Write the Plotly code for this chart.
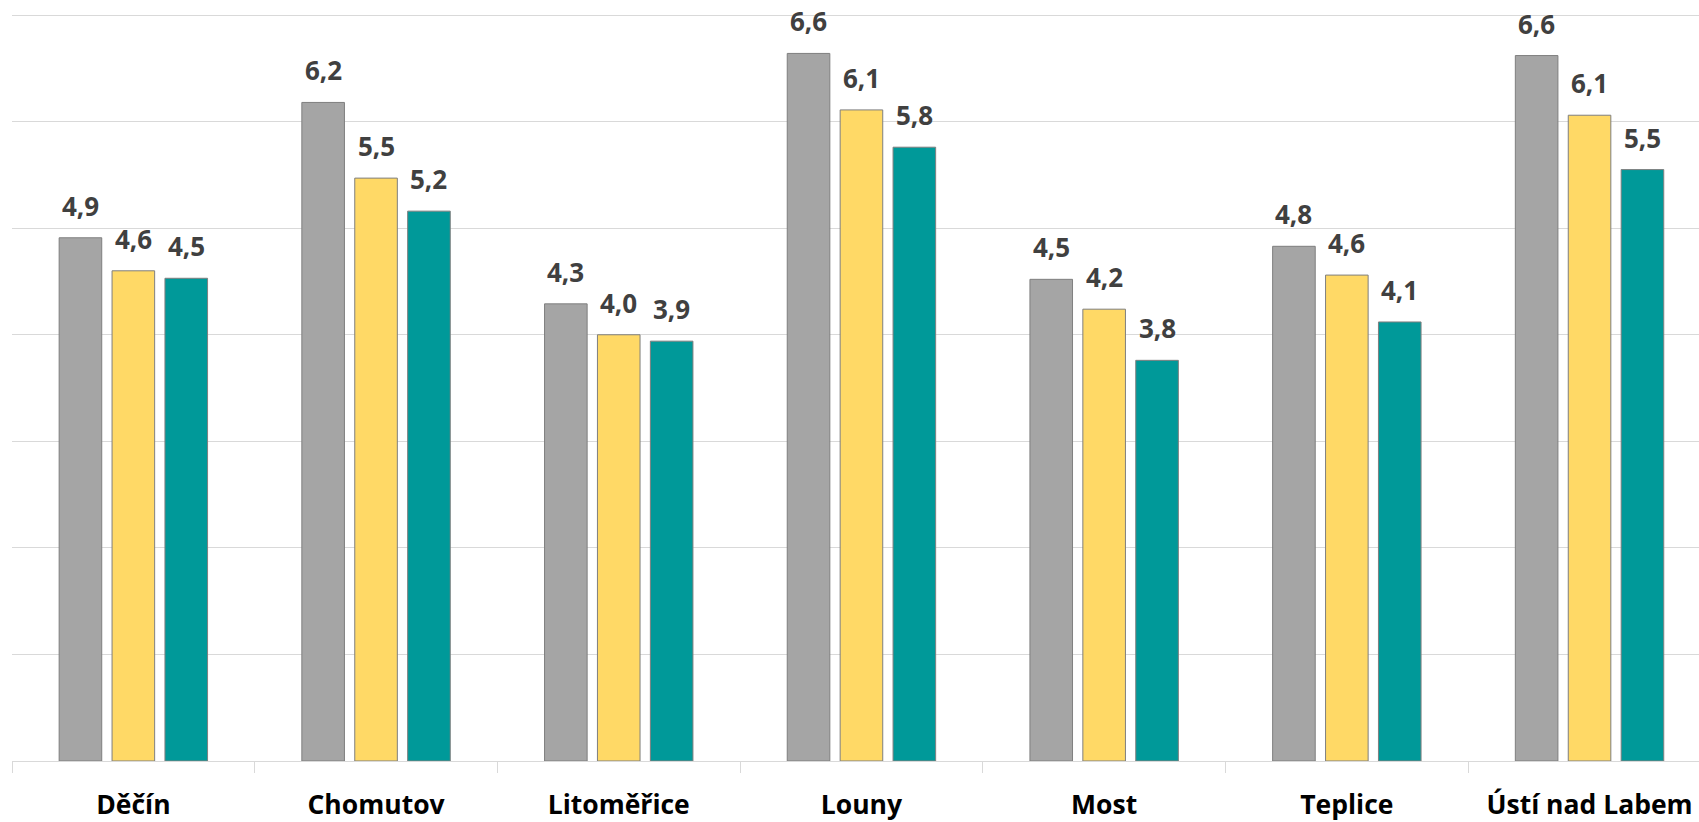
import plotly.graph_objects as go

categories = ["Děčín", "Chomutov", "Litoměřice", "Louny", "Most", "Teplice", "Ústí nad Labem"]
series_a = [4.91, 6.18, 4.29, 6.64, 4.52, 4.83, 6.62]   # gray
series_b = [4.60, 5.47, 4.00, 6.11, 4.24, 4.56, 6.06]   # yellow
series_c = [4.53, 5.16, 3.94, 5.76, 3.76, 4.12, 5.55]   # teal

series = [series_a, series_b, series_c]
colors = ["#A5A5A5", "#FFD966", "#009999"]

BARGAP = 0.346
GROUPGAP = 0.195
slot = (1 - BARGAP) / len(series)

fig = go.Figure()
for s, c in zip(series, colors):
    fig.add_trace(go.Bar(
        x=categories, y=s, marker=dict(color=c, line=dict(color="#7F7F7F", width=1)),
        showlegend=False, hoverinfo="skip"))

annotations = []
for j, s in enumerate(series):
    for i, v in enumerate(s):
        annotations.append(dict(
            x=i + (j - 1) * slot, y=v, xref="x", yref="y",
            text=f"{v:.1f}".replace(".", ","), showarrow=False,
            yanchor="bottom", xanchor="center", yshift=12,
            font=dict(family="Open Sans", size=26, color="#404040", weight="bold")))

fig.update_layout(
    width=1699, height=822,
    margin=dict(l=12, r=0, t=14, b=59),
    paper_bgcolor="white", plot_bgcolor="white",
    barmode="group", bargap=BARGAP, bargroupgap=GROUPGAP,
    annotations=annotations,
    xaxis=dict(
        range=[-0.5, 6.451], showline=True, linecolor="#D9D9D9", linewidth=1,
        ticks="outside", tickson="boundaries", ticklen=11, tickcolor="#D9D9D9",
        showgrid=False, ticklabelstandoff=20,
        tickfont=dict(family="Open Sans", size=26.5, color="#000000", weight="bold")),
    yaxis=dict(
        range=[0, 7.01], dtick=1, showgrid=True, gridcolor="#D9D9D9", gridwidth=1,
        showticklabels=False, zeroline=False, showline=False),
)

fig.write_html("out.html", config={"displayModeBar": False},
               post_script="document.body.style.margin='0';")
